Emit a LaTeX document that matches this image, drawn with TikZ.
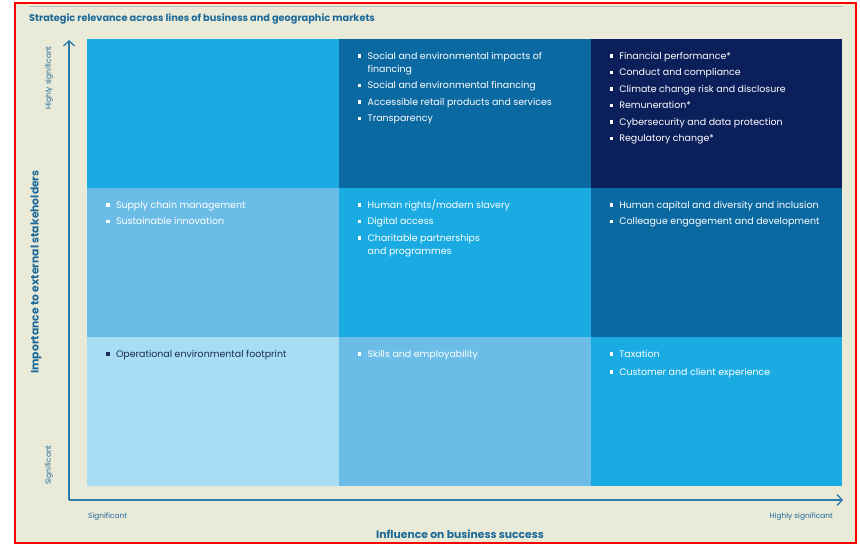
\documentclass[tikz,border=0pt]{standalone}
\usepackage{fontspec}
\setmainfont{Poppins}
\usetikzlibrary{arrows.meta}
\definecolor{cyanb}{HTML}{19ABE2}
\definecolor{midb}{HTML}{0A69A1}
\definecolor{navyb}{HTML}{0B1F5B}
\definecolor{lightb}{HTML}{6BBCE7}
\definecolor{palestb}{HTML}{A8DEF4}
\definecolor{beige}{HTML}{E9EAD8}
\definecolor{axisb}{HTML}{2F7CAB}
\definecolor{titleb}{HTML}{1D6A9A}
\definecolor{topline}{HTML}{A9C4C8}
\definecolor{darktext}{HTML}{1B2A5C}
\newcommand{\bl}{\raisebox{1.7pt}{\rule{3.4pt}{3.4pt}}}
\newenvironment{blist}{\begin{tabular}{@{}l@{\hspace{6.4pt}}l@{}}}{\end{tabular}}
\tikzset{
  cell/.style={draw=none, minimum width=251.67pt, minimum height=149pt, inner sep=0pt, anchor=north west},
  items/.style={anchor=north west, inner sep=0pt, text=white, font={\fontsize{9.45}{13}\selectfont}},
  axisline/.style={draw=axisb, line width=1.8pt, -{Straight Barb[length=5pt,width=11pt,line width=1.4pt]}},
  small/.style={text=titleb, font={\fontsize{7.4}{8}\selectfont}, inner sep=0pt},
  axlabel/.style={text=titleb, font={\fontsize{10.8}{12}\selectfont\bfseries}, inner sep=0pt}
}
\begin{document}
\begin{tikzpicture}[x=1pt,y=-1pt]
\useasboundingbox (0,0) rectangle (860,544);
\fill[white] (0,0) rectangle (860,544);
\draw[red, line width=1.5pt, fill=beige] (15,3) rectangle (856,543);
\draw[topline, line width=0.8pt] (29,6.5) -- (843,6.5);
\node[anchor=west, inner sep=0pt, text=titleb, font={\fontsize{9.75}{11}\selectfont\bfseries}] (title) at (29,19) {Strategic relevance across lines of business and geographic markets};
% cells
\node[cell, fill=cyanb] (c11) at (87,39) {};
\node[cell, fill=midb] (c12) at (338.67,39) {};
\node[cell, fill=navyb] (c13) at (590.33,39) {};
\node[cell, fill=lightb] (c21) at (87,188) {};
\node[cell, fill=cyanb] (c22) at (338.67,188) {};
\node[cell, fill=midb] (c23) at (590.33,188) {};
\node[cell, fill=palestb] (c31) at (87,337) {};
\node[cell, fill=lightb] (c32) at (338.67,337) {};
\node[cell, fill=cyanb] (c33) at (590.33,337) {};
% items
\node[items] (t12) at ([shift={(19,11)}]c12.north west) {\begin{blist}
\bl & Social and environmental impacts of\\
 & financing\\[3.5pt]
\bl & Social and environmental financing\\[3.5pt]
\bl & Accessible retail products and services\\[3.5pt]
\bl & Transparency
\end{blist}};
\node[items] (t13) at ([shift={(19,11)}]c13.north west) {\begin{blist}
\bl & Financial performance*\\[3.5pt]
\bl & Conduct and compliance\\[3.5pt]
\bl & Climate change risk and disclosure\\[3.5pt]
\bl & Remuneration*\\[3.5pt]
\bl & Cybersecurity and data protection\\[3.5pt]
\bl & Regulatory change*
\end{blist}};
\node[items] (t21) at ([shift={(19,11)}]c21.north west) {\begin{blist}
\bl & Supply chain management\\[3.5pt]
\bl & Sustainable innovation
\end{blist}};
\node[items] (t22) at ([shift={(19,11)}]c22.north west) {\begin{blist}
\bl & Human rights/modern slavery\\[3.5pt]
\bl & Digital access\\[3.5pt]
\bl & Charitable partnerships\\
 & and programmes
\end{blist}};
\node[items] (t23) at ([shift={(19,11)}]c23.north west) {\begin{blist}
\bl & Human capital and diversity and inclusion\\[3.5pt]
\bl & Colleague engagement and development
\end{blist}};
\node[items, text=darktext] (t31) at ([shift={(19,11)}]c31.north west) {\begin{blist}
\bl & Operational environmental footprint
\end{blist}};
\node[items] (t32) at ([shift={(19,11)}]c32.north west) {\begin{blist}
\bl & Skills and employability
\end{blist}};
\node[items] (t33) at ([shift={(19,11)}]c33.north west) {\begin{blist}
\bl & Taxation\\[5pt]
\bl & Customer and client experience
\end{blist}};
% axes
\coordinate (origin) at (69,500);
\coordinate (ytip) at (69,40);
\coordinate (xtip) at (843,500);
\draw[axisline] (origin) -- (ytip);
\draw[axisline] (origin) -- (xtip);
\node[small, rotate=90] (yhigh) at (49,78) {Highly significant};
\node[small, rotate=90] (ylow) at (49,465) {Significant};
\node[small, anchor=west] (xlow) at (88,517) {Significant};
\node[small, anchor=east] (xhigh) at (833,517) {Highly significant};
\node[axlabel, rotate=90] (ylab) at (36,272) {Importance to external stakeholders};
\node[axlabel] (xlab) at (460,534) {Influence on business success};
\end{tikzpicture}
\end{document}
